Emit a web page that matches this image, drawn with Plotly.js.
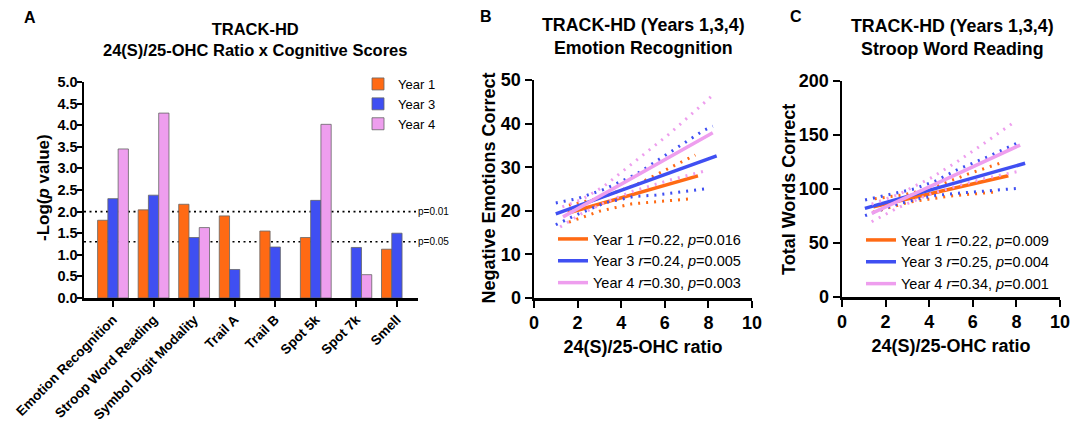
<!DOCTYPE html>
<html><head><meta charset="utf-8">
<script src="https://cdn.plot.ly/plotly-3.0.1.min.js"></script>
<style>html,body{margin:0;padding:0;background:#fff}#chart{width:1072px;height:423px}</style>
</head><body><div id="chart"></div>
<script>
// ---------- Panel A data ----------
const categories = ["Emotion Recognition","Stroop Word Reading","Symbol Digit Modality","Trail A","Trail B","Spot 5k","Spot 7k","Smell"];
const year1Values = [1.80, 2.04, 2.17, 1.90, 1.55, 1.40, null, 1.13];
const year3Values = [2.30, 2.38, 1.40, 0.66, 1.18, 2.26, 1.17, 1.50];
const year4Values = [3.45, 4.28, 1.63, null, null, 4.02, 0.54, null];
const thresholdP = [0.01, 0.05];
const thresholdLabels = ["p=0.01", "p=0.05"];
const yearNames = ["Year 1", "Year 3", "Year 4"];

// ---------- Panel B data (Emotion Recognition) ----------
const bY1LineX = [1.56, 7.52], bY1LineY = [19.5, 28.0];
const bY1UpX = [1.6, 3.0, 4.7, 6.1, 7.4], bY1UpY = [21.3, 22.9, 26.0, 29.6, 32.8];
const bY1LoX = [1.6, 3.0, 4.5, 6.0, 7.3], bY1LoY = [17.4, 19.9, 21.6, 22.2, 22.8];
const bY3LineX = [1.0, 8.38], bY3LineY = [19.3, 32.6];
const bY3UpX = [1.0, 2.0, 3.2, 4.7, 6.2, 7.8, 8.2], bY3UpY = [21.8, 22.8, 24.9, 28.4, 33.3, 38.5, 39.4];
const bY3LoX = [1.0, 2.0, 3.3, 4.6, 5.6, 6.8, 8.0], bY3LoY = [16.8, 19.2, 21.9, 23.3, 23.6, 24.3, 25.1];
const bY4LineX = [1.33, 8.2], bY4LineY = [18.6, 37.9];
const bY4UpX = [1.3, 2.2, 3.2, 4.7, 6.2, 8.15], bY4UpY = [20.9, 22.6, 25.6, 31.6, 37.6, 46.3];
const bY4LoX = [1.2, 2.2, 3.3, 4.6, 6.2, 7.9], bY4LoY = [16.3, 19.4, 22.0, 24.6, 27.0, 29.2];
const bLegend = ["Year 1 <i>r</i>=0.22, <i>p</i>=0.016", "Year 3 <i>r</i>=0.24, <i>p</i>=0.005", "Year 4 <i>r</i>=0.30, <i>p</i>=0.003"];

// ---------- Panel C data (Stroop Word Reading) ----------
const cY1LineX = [1.44, 7.63], cY1LineY = [83.6, 112.3];
const cY1UpX = [1.5, 2.8, 4.0, 5.8, 7.46], cY1UpY = [91, 94.5, 100, 114, 125.3];
const cY1LoX = [1.42, 3.1, 5.0, 7.16], cY1LoY = [78.5, 88, 93.5, 97.5];
const cY3LineX = [1.05, 8.4], cY3LineY = [82.1, 123.8];
const cY3UpX = [1.06, 2.35, 3.3, 4.3, 5.26, 6.7, 8.17], cY3UpY = [89.8, 95.5, 100, 107.5, 117.6, 130, 143.8];
const cY3LoX = [1.06, 2.3, 3.4, 4.3, 5.26, 6.7, 8.09], cY3LoY = [75.3, 84.5, 90.5, 94, 96, 98.5, 100.6];
const cY4LineX = [1.36, 8.17], cY4LineY = [77.5, 140.7];
const cY4UpX = [1.36, 2.6, 4.1, 5.26, 6.5, 7.86], cY4UpY = [86, 95, 110.5, 125, 142, 161.4];
const cY4LoX = [1.36, 2.6, 4.0, 5.3, 6.6, 8.01], cY4LoY = [69.7, 83, 95, 103, 110, 116];
const cLegend = ["Year 1 <i>r</i>=0.22, <i>p</i>=0.009", "Year 3 <i>r</i>=0.25, <i>p</i>=0.004", "Year 4 <i>r</i>=0.34, <i>p</i>=0.001"];

// ---------- styles ----------
const FONT = "Liberation Sans, Arial, Helvetica, sans-serif";
const ORANGE = "#FF6A14", BLUE = "#3F4FF2", PINK = "#EE9EEE";
const colors = [ORANGE, BLUE, PINK];

const traces = [];
[year1Values, year3Values, year4Values].forEach((vals, i) => {
  traces.push({
    type: "bar", x: categories, y: vals, name: yearNames[i],
    xaxis: "x", yaxis: "y", legend: "legend",
    marker: {color: colors[i], line: {color: "#666", width: 0.8}}
  });
});

function addRegression(ax, ay, legendName, label, color, lx, ly, ux, uy, dx, dy) {
  traces.push({type: "scatter", mode: "lines", x: ux, y: uy, xaxis: ax, yaxis: ay,
    showlegend: false, hoverinfo: "skip", line: {color: color, width: 3, dash: "2px,6px"}});
  traces.push({type: "scatter", mode: "lines", x: dx, y: dy, xaxis: ax, yaxis: ay,
    showlegend: false, hoverinfo: "skip", line: {color: color, width: 3, dash: "2px,6px"}});
  traces.push({type: "scatter", mode: "lines", x: lx, y: ly, xaxis: ax, yaxis: ay,
    name: label, legend: legendName, line: {color: color, width: 3.5}});
}
addRegression("x2","y2","legend2",bLegend[0],ORANGE,bY1LineX,bY1LineY,bY1UpX,bY1UpY,bY1LoX,bY1LoY);
addRegression("x2","y2","legend2",bLegend[1],BLUE,bY3LineX,bY3LineY,bY3UpX,bY3UpY,bY3LoX,bY3LoY);
addRegression("x2","y2","legend2",bLegend[2],PINK,bY4LineX,bY4LineY,bY4UpX,bY4UpY,bY4LoX,bY4LoY);
addRegression("x3","y3","legend3",cLegend[0],ORANGE,cY1LineX,cY1LineY,cY1UpX,cY1UpY,cY1LoX,cY1LoY);
addRegression("x3","y3","legend3",cLegend[1],BLUE,cY3LineX,cY3LineY,cY3UpX,cY3UpY,cY3LoX,cY3LoY);
addRegression("x3","y3","legend3",cLegend[2],PINK,cY4LineX,cY4LineY,cY4UpX,cY4UpY,cY4LoX,cY4LoY);

const W = 1072, H = 423;
const px = v => v / W, py = v => 1 - v / H;
const BOLD = 700;

const baseAxis = {
  showline: true, linecolor: "#000", linewidth: 2.5, mirror: false,
  ticks: "outside", ticklen: 7, tickwidth: 2, tickcolor: "#000",
  showgrid: false, zeroline: false, fixedrange: true,
  tickfont: {family: FONT, size: 18, color: "#000", weight: BOLD}
};
const axTitleFont = {family: FONT, size: 18, color: "#000", weight: BOLD};

const shapes = thresholdP.map(p => ({
  type: "line", xref: "x domain", yref: "y", x0: 0, x1: 1, y0: -Math.log10(p), y1: -Math.log10(p),
  layer: "below", line: {color: "#000", width: 1.6, dash: "2px,3.5px"}
}));

const letterFont = {family: FONT, size: 16, color: "#000", weight: BOLD};
const annFontA = {family: FONT, size: 16.5, color: "#000", weight: BOLD};
const annFontB = {family: FONT, size: 17.8, color: "#000", weight: BOLD};
const paperAnn = (text, x, y, font, angle) => ({text: text, x: px(x), y: py(y), xref: "paper", yref: "paper",
  showarrow: false, xanchor: "center", yanchor: "middle", font: font, textangle: angle || 0});
const annotations = [
  paperAnn("A", 30, 18, letterFont),
  paperAnn("B", 486, 17, letterFont),
  paperAnn("C", 796, 17, letterFont),
  paperAnn("TRACK-HD<br>24(S)/25-OHC Ratio x Cognitive Scores", 255, 39, annFontA),
  paperAnn("TRACK-HD (Years 1,3,4)<br>Emotion Recognition", 643, 36.5, annFontB),
  paperAnn("TRACK-HD (Years 1,3,4)<br>Stroop Word Reading", 952, 37.5, annFontB),
  paperAnn("-Log(<i>p</i> value)", 43, 188, {family: FONT, size: 17, color: "#000", weight: BOLD}, -90),
  paperAnn("Negative Emotions Correct", 488.5, 188, axTitleFont, -90),
  paperAnn("Total Words Correct", 789, 190, axTitleFont, -90)
];
thresholdP.forEach((p, i) => {
  annotations.push({text: thresholdLabels[i], x: px(416), xref: "paper", y: -Math.log10(p), yref: "y",
    showarrow: false, xanchor: "left", yanchor: "middle", font: {family: FONT, size: 10, color: "#000"}});
});

const layout = {
  width: W, height: H, margin: {l: 0, r: 0, t: 0, b: 0, pad: 0},
  paper_bgcolor: "#fff", plot_bgcolor: "rgba(0,0,0,0)",
  barmode: "group", bargap: 0.24, bargroupgap: 0,
  font: {family: FONT, color: "#000"},
  xaxis: Object.assign({}, baseAxis, {
    domain: [px(84), px(418)], anchor: "y", range: [-0.715, 7.52], type: "category",
    tickangle: -45, ticklen: 6,
    tickfont: {family: FONT, size: 13.5, color: "#000", weight: BOLD}
  }),
  yaxis: Object.assign({}, baseAxis, {
    domain: [py(298), py(82)], anchor: "x", range: [0, 5], dtick: 0.5, tickformat: ".1f", ticklen: 5,
    ticklabelstandoff: -4,
    tickfont: {family: FONT, size: 14.5, color: "#000", weight: BOLD}
  }),
  xaxis2: Object.assign({}, baseAxis, {
    domain: [px(534), px(752)], anchor: "y2", range: [0, 10], dtick: 2,
    title: {text: "24(S)/25-OHC ratio", font: axTitleFont, standoff: 9}
  }),
  yaxis2: Object.assign({}, baseAxis, {
    domain: [py(298), py(80)], anchor: "x2", range: [0, 50], dtick: 10
  }),
  xaxis3: Object.assign({}, baseAxis, {
    domain: [px(842), px(1060)], anchor: "y3", range: [0, 10], dtick: 2,
    title: {text: "24(S)/25-OHC ratio", font: axTitleFont, standoff: 9}
  }),
  yaxis3: Object.assign({}, baseAxis, {
    domain: [py(297), py(81)], anchor: "x3", range: [0, 200], dtick: 50
  }),
  legend: {x: px(358), y: py(69), xanchor: "left", yanchor: "top", bgcolor: "rgba(0,0,0,0)",
    font: {family: FONT, size: 13, color: "#000"}, tracegroupgap: 0, itemwidth: 30},
  legend2: {x: px(553), y: py(223), xanchor: "left", yanchor: "top", bgcolor: "rgba(0,0,0,0)",
    font: {family: FONT, size: 14.5, color: "#000"}, tracegroupgap: 0, itemwidth: 30},
  legend3: {x: px(861), y: py(224), xanchor: "left", yanchor: "top", bgcolor: "rgba(0,0,0,0)",
    font: {family: FONT, size: 14.5, color: "#000"}, tracegroupgap: 0, itemwidth: 30},
  shapes: shapes,
  annotations: annotations
};

Plotly.newPlot("chart", traces, layout, {displayModeBar: false, staticPlot: true});
</script>
</body></html>
